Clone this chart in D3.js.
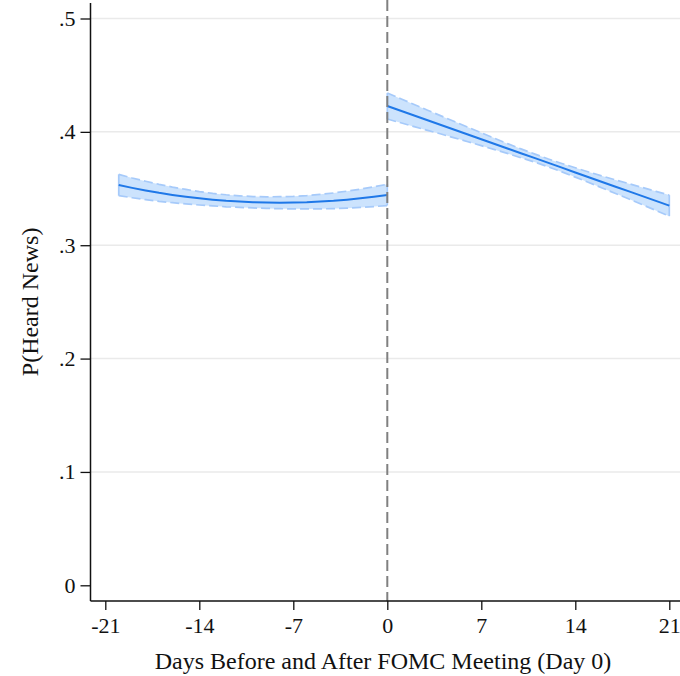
<!DOCTYPE html>
<html>
<head>
<meta charset="utf-8">
<script src="https://cdn.jsdelivr.net/npm/d3@7"></script>
<style>
  body { margin: 0; background: #fff; }
  text { font-family: "Liberation Serif", "Times New Roman", serif; fill: #111; }
</style>
</head>
<body>
<div id="chart"></div>
<script>
const WIDTH = 680, HEIGHT = 676;

// fitted values before the meeting (days -20..0)
const daysPre = [-20,-19,-18,-17,-16,-15,-14,-13,-12,-11,-10,-9,-8,-7,-6,-5,-4,-3,-2,-1,0];
const fitPre  = [0.3531,0.3506,0.3483,0.3462,0.3444,0.3428,0.3414,0.3402,0.3392,0.3385,0.3379,0.3376,0.3375,0.3376,0.3379,0.3385,0.3392,0.3402,0.3414,0.3428,0.3444];
const loPre   = [0.3437,0.3419,0.3402,0.3387,0.3375,0.3364,0.3355,0.3347,0.3339,0.3334,0.3329,0.3325,0.3322,0.3321,0.3320,0.3321,0.3323,0.3327,0.3333,0.3341,0.3350];
const hiPre   = [0.3625,0.3593,0.3564,0.3537,0.3513,0.3492,0.3473,0.3457,0.3445,0.3436,0.3429,0.3427,0.3428,0.3431,0.3438,0.3449,0.3461,0.3477,0.3495,0.3515,0.3538];

// fitted values after the meeting (days 0..21)
const daysPost = [0,1,2,3,4,5,6,7,8,9,10,11,12,13,14,15,16,17,18,19,20,21];
const fitPost  = [0.4228,0.4186,0.4144,0.4102,0.4061,0.4019,0.3977,0.3935,0.3893,0.3851,0.3809,0.3768,0.3726,0.3684,0.3642,0.3600,0.3558,0.3516,0.3475,0.3433,0.3391,0.3349];
const loPost   = [0.4113,0.4080,0.4046,0.4013,0.3981,0.3947,0.3913,0.3878,0.3843,0.3808,0.3770,0.3732,0.3691,0.3647,0.3601,0.3554,0.3505,0.3456,0.3407,0.3357,0.3307,0.3256];
const hiPost   = [0.4343,0.4292,0.4242,0.4191,0.4141,0.4091,0.4041,0.3992,0.3943,0.3894,0.3848,0.3804,0.3761,0.3721,0.3683,0.3646,0.3611,0.3576,0.3543,0.3509,0.3475,0.3442];

const xTicks = [-21,-14,-7,0,7,14,21];
const xTickLabels = ["-21","-14","-7","0","7","14","21"];
const yTicks = [0,0.1,0.2,0.3,0.4,0.5];
const yTickLabels = ["0",".1",".2",".3",".4",".5"];
const meetingDay = 0;

const plot = { left: 90.5, right: 680, top: 3, bottom: 601 };

const x = d3.scaleLinear().domain([-21, 21]).range([105.3, 669.3]);
const y = d3.scaleLinear().domain([0, 0.5]).range([585.3, 18.5]);

const svg = d3.select("#chart").append("svg")
  .attr("width", WIDTH).attr("height", HEIGHT);

// gridlines (none at zero)
svg.append("g").selectAll("line").data(yTicks.filter(d => d > 0)).join("line")
  .attr("x1", plot.left).attr("x2", plot.right)
  .attr("y1", d => y(d)).attr("y2", d => y(d))
  .attr("stroke", "#eaeaea").attr("stroke-width", 1.5);

// confidence bands + fits
const segments = [
  { days: daysPre, fit: fitPre, lo: loPre, hi: hiPre },
  { days: daysPost, fit: fitPost, lo: loPost, hi: hiPost }
];

const area = d3.area().x(d => x(d.day)).y0(d => y(d.lo)).y1(d => y(d.hi));
const lineFit = d3.line().x(d => x(d.day)).y(d => y(d.fit));
const lineLo = d3.line().x(d => x(d.day)).y(d => y(d.lo));
const lineHi = d3.line().x(d => x(d.day)).y(d => y(d.hi));

segments.forEach(s => {
  const pts = s.days.map((day, i) => ({ day, fit: s.fit[i], lo: s.lo[i], hi: s.hi[i] }));
  const g = svg.append("g");
  g.append("path").datum(pts).attr("d", area)
    .attr("fill", "#cce3fd").attr("stroke", "none");
  [lineLo, lineHi].forEach(l => {
    g.append("path").datum(pts).attr("d", l)
      .attr("fill", "none").attr("stroke", "#a6cafa")
      .attr("stroke-width", 1.7).attr("stroke-dasharray", "9,4");
  });
  [pts[0], pts[pts.length - 1]].forEach(p => {
    g.append("line")
      .attr("x1", x(p.day)).attr("x2", x(p.day))
      .attr("y1", y(p.lo)).attr("y2", y(p.hi))
      .attr("stroke", "#a6cafa").attr("stroke-width", 1.7);
  });
  g.append("path").datum(pts).attr("d", lineFit)
    .attr("fill", "none").attr("stroke", "#1f78e8").attr("stroke-width", 2);
});

// meeting day marker
svg.append("line")
  .attr("x1", x(meetingDay)).attr("x2", x(meetingDay))
  .attr("y1", 0).attr("y2", plot.bottom)
  .attr("stroke", "#808080").attr("stroke-width", 2)
  .attr("stroke-dasharray", "11,5");

// axes
const yAxis = svg.append("g")
  .attr("transform", `translate(${plot.left},0)`)
  .call(d3.axisLeft(y).tickValues(yTicks).tickFormat((d, i) => yTickLabels[i]).tickSize(10).tickPadding(5));
yAxis.select(".domain").remove();
yAxis.selectAll(".tick line").attr("stroke", "#111").attr("stroke-width", 1.3);
yAxis.selectAll(".tick text").attr("font-size", 22).attr("font-family", "Liberation Serif");

const xAxis = svg.append("g")
  .attr("transform", `translate(0,${plot.bottom})`)
  .call(d3.axisBottom(x).tickValues(xTicks).tickFormat((d, i) => xTickLabels[i]).tickSize(9).tickPadding(7));
xAxis.select(".domain").remove();
xAxis.selectAll(".tick line").attr("stroke", "#111").attr("stroke-width", 1.3);
xAxis.selectAll(".tick text").attr("font-size", 22).attr("font-family", "Liberation Serif");

svg.append("line")
  .attr("x1", plot.left).attr("x2", plot.left)
  .attr("y1", plot.top).attr("y2", plot.bottom)
  .attr("stroke", "#111").attr("stroke-width", 1.5);
svg.append("line")
  .attr("x1", plot.left).attr("x2", plot.right)
  .attr("y1", plot.bottom).attr("y2", plot.bottom)
  .attr("stroke", "#111").attr("stroke-width", 1.5);

// titles
svg.append("text")
  .attr("x", 383).attr("y", 669)
  .attr("text-anchor", "middle").attr("font-size", 24)
  .text("Days Before and After FOMC Meeting (Day 0)");

svg.append("text")
  .attr("transform", `translate(38,${(y(0) + y(0.5)) / 2}) rotate(-90)`)
  .attr("text-anchor", "middle").attr("font-size", 24)
  .text("P(Heard News)");
</script>
</body>
</html>
